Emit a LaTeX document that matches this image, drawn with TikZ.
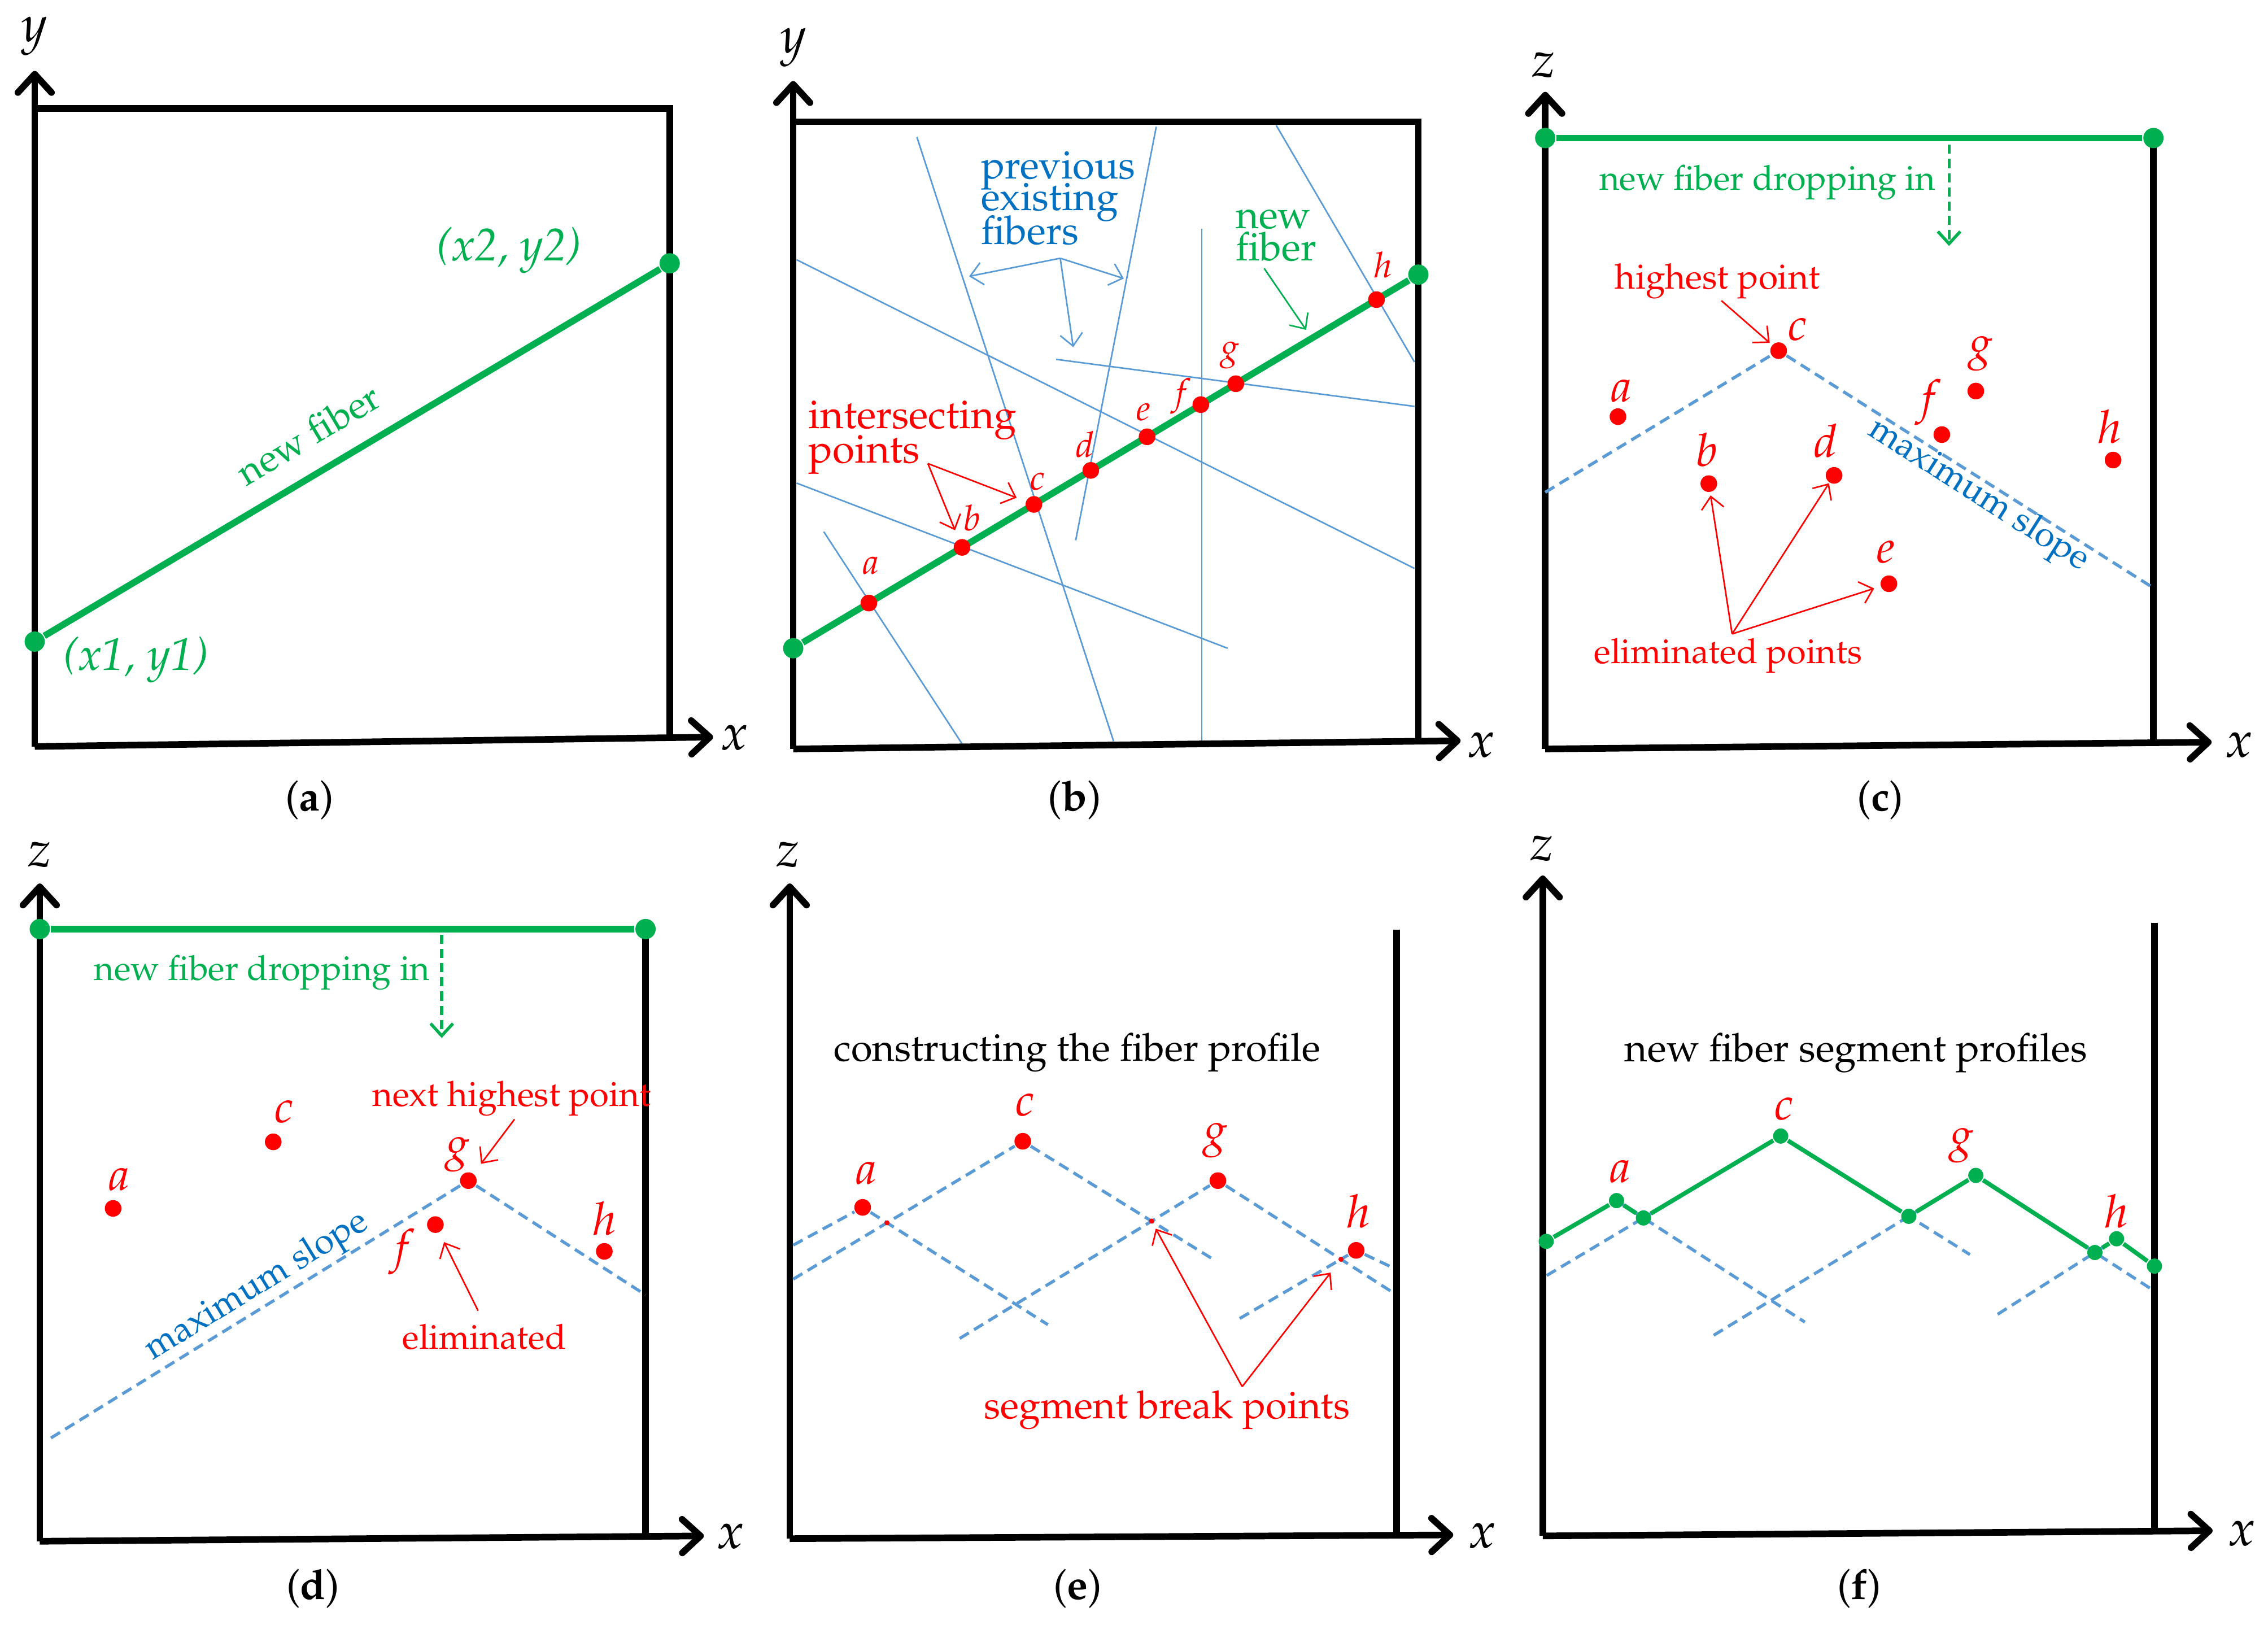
\documentclass[tikz,border=0pt]{standalone}
\usepackage[T1]{fontenc}
\usepackage{mathpazo}
\usetikzlibrary{arrows.meta,calc}

\definecolor{fibergreen}{RGB}{0,176,80}
\definecolor{ptred}{RGB}{255,0,0}
\definecolor{oldblue}{RGB}{91,155,213}
\definecolor{noteblue}{RGB}{0,112,192}

\newcommand{\fsz}[1]{\fontsize{#1}{#1}\selectfont}

\begin{document}
\begin{tikzpicture}[
  x=0.01cm, y=-0.01cm,
  axisline/.style={
      line width=1.3pt,
      arrows = {-Straight Barb[length=3.6pt,width=6.6pt,round]}
    },
  boxline/.style={
      line width=1.3pt
    },
  fiber/.style={
      draw=fibergreen,
      line width=1.3pt
    },
  profile/.style={
      draw=fibergreen,
      line width=0.85pt,
      line join=round
    },
  gdot/.style={circle, fill=fibergreen, inner sep=0pt, minimum size=0.14cm},
  pdot/.style={circle, fill=fibergreen, inner sep=0pt, minimum size=0.105cm},
  rdot/.style={circle, fill=ptred, inner sep=0pt, minimum size=0.115cm},
  brkdot/.style={circle, fill=ptred, inner sep=0pt, minimum size=0.035cm},
  oldfiber/.style={
      draw=oldblue,
      line width=0.3pt
    },
  maxslope/.style={
      draw=oldblue,
      line width=0.6pt,
      dash pattern=on 2.1pt off 1.2pt
    },
  callout/.style={
      line width=0.3pt,
      arrows = {-Straight Barb[length=2.4pt,width=4.4pt]}
    },
  dropline/.style={
      draw=fibergreen,
      line width=0.6pt,
      dash pattern=on 1.8pt off 1pt,
      arrows = {-Straight Barb[length=2.4pt,width=4.4pt]}
    },
  axlabel/.style={inner sep=0pt, font=\fsz{10}},
  ptlabel/.style={inner sep=0pt, text=ptred, font=\fsz{9}},
  smalllabel/.style={inner sep=0pt, text=ptred, font=\fsz{7}},
  subcap/.style={inner sep=0pt, font=\fsz{8.2}},
  greentext/.style={inner sep=0pt, text=fibergreen},
  redtext/.style={inner sep=0pt, text=ptred},
  bluetext/.style={inner sep=0pt, text=noteblue},
  blacktext/.style={inner sep=0pt}]
  \useasboundingbox (0,0) rectangle (1568,1123);

  % (a) new fiber in the x-y plane
  \begin{scope}
    \coordinate (o) at (24,516);
    \coordinate (ya) at (24,49);
    \coordinate (xa) at (493,509.5);
    \coordinate (c1) at (24,75);
    \coordinate (c2) at (463,75);
    \coordinate (c3) at (463,510);
    \draw [boxline] (c1) -- (c2) -- (c3);
    \draw [axisline] (o) -- (ya);
    \draw [axisline] (o) -- (xa);
    \node [axlabel] (ylab) at (24,25) {$y$};
    \node [axlabel] (xlab) at (508,510) {$x$};

    \node [gdot] (p1) at (24,443.5) {};
    \node [gdot] (p2) at (463,182) {};
    \draw [fiber] (p1) -- (p2);
    \node [greentext, font=\fsz{9}\itshape] (p1lab) at (94,456) {(x1, y1)};
    \node [greentext, font=\fsz{9}\itshape] (p2lab) at (352,173) {(x2, y2)};
    \node [greentext, font=\fsz{7.5}, rotate=30.8] (nf) at (213,300) {new fiber};

    \node [subcap] (capa) at (214,553) {(\textbf{a})};
  \end{scope}

  % (b) intersections with the previous fibers
  \begin{scope}
    \coordinate (o) at (548.4,517.7);
    \coordinate (ya) at (548.4,56);
    \coordinate (xa) at (1009.8,512);
    \coordinate (c1) at (548.4,84.1);
    \coordinate (c2) at (980.6,84.1);
    \coordinate (c3) at (980.6,512.4);

    \coordinate (f1s) at (569.5,367.5);  \coordinate (f1e) at (665.1,514.1);
    \coordinate (f2s) at (550.7,333.9);  \coordinate (f2e) at (848.7,448.1);
    \coordinate (f3s) at (633.9,94.7);   \coordinate (f3e) at (769.9,512.4);
    \coordinate (f4s) at (799.4,87.6);   \coordinate (f4e) at (743.7,373.5);
    \coordinate (f5s) at (550.7,179.5);  \coordinate (f5e) at (977.9,392.9);
    \coordinate (f6s) at (830.9,158);    \coordinate (f6e) at (830.9,512.4);
    \coordinate (f7s) at (730.2,248.4);  \coordinate (f7e) at (977.9,280.9);
    \coordinate (f8s) at (882.3,86.6);   \coordinate (f8e) at (977.9,250.2);
    \draw [oldfiber] (f1s) -- (f1e);
    \draw [oldfiber] (f2s) -- (f2e);
    \draw [oldfiber] (f3s) -- (f3e);
    \draw [oldfiber] (f4s) -- (f4e);
    \draw [oldfiber] (f5s) -- (f5e);
    \draw [oldfiber] (f6s) -- (f6e);
    \draw [oldfiber] (f7s) -- (f7e);
    \draw [oldfiber] (f8s) -- (f8e);

    \draw [boxline] (c1) -- (c2) -- (c3);
    \draw [axisline] (o) -- (ya);
    \draw [axisline] (o) -- (xa);
    \node [axlabel] (ylab) at (548.4,33) {$y$};
    \node [axlabel] (xlab) at (1024,515) {$x$};

    \node [gdot] (p1) at (548.4,448.1) {};
    \node [gdot] (p2) at (980.6,189.8) {};
    \draw [fiber] (p1) -- (p2);

    \node [rdot] (a) at ($(p1)!0.121!(p2)$) {};
    \node [rdot] (b) at ($(p1)!0.270!(p2)$) {};
    \node [rdot] (c) at ($(p1)!0.385!(p2)$) {};
    \node [rdot] (d) at ($(p1)!0.476!(p2)$) {};
    \node [rdot] (e) at ($(p1)!0.566!(p2)$) {};
    \node [rdot] (f) at ($(p1)!0.652!(p2)$) {};
    \node [rdot] (g) at ($(p1)!0.708!(p2)$) {};
    \node [rdot] (h) at ($(p1)!0.933!(p2)$) {};
    \node [smalllabel] (alab) at ($(a) + (1.4,-25.8)$) {$a$};
    \node [smalllabel] (blab) at ($(b) + (6.8,-20.5)$) {$b$};
    \node [smalllabel] (clab) at ($(c) + (2.4,-15.9)$) {$c$};
    \node [smalllabel] (dlab) at ($(d) + (-4.1,-18)$) {$d$};
    \node [smalllabel] (elab) at ($(e) + (-2.3,-16.9)$) {$e$};
    \node [smalllabel] (flab) at ($(f) + (-13.5,-6)$) {$f$};
    \node [smalllabel] (glab) at ($(g) + (-4,-19.8)$) {$g$};
    \node [smalllabel] (hlab) at ($(h) + (4.4,-24)$) {$h$};

    \node [bluetext, font=\fsz{7.8}, anchor=base west] (prev1) at (677.6,123.7) {previous};
    \node [bluetext, font=\fsz{7.8}, anchor=base west] (prev2) at (677.6,145.6) {existing};
    \node [bluetext, font=\fsz{7.8}, anchor=base west] (prev3) at (677.6,168.9) {fibers};
    \coordinate (pf) at (733,178.5);
    \coordinate (pf1) at (670,191);
    \coordinate (pf2) at (777,192.5);
    \coordinate (pf3) at (742,240);
    \draw [callout, draw=oldblue] (pf) -- (pf1);
    \draw [callout, draw=oldblue] (pf) -- (pf2);
    \draw [callout, draw=oldblue] (pf) -- (pf3);

    \node [greentext, font=\fsz{7.8}, anchor=base west] (nf1) at (853.7,158) {new};
    \node [greentext, font=\fsz{7.8}, anchor=base west] (nf2) at (853.7,180.2) {fiber};
    \coordinate (nfs) at (874,185.5);
    \coordinate (nft) at (903,228);
    \draw [callout, draw=fibergreen] (nfs) -- (nft);

    \node [redtext, font=\fsz{7.9}, anchor=base west] (int1) at (558.4,296.1) {intersecting};
    \node [redtext, font=\fsz{7.9}, anchor=base west] (int2) at (558.4,319.8) {points};
    \coordinate (ipt) at (641.5,320.4);
    \draw [callout, draw=ptred, shorten >=1.8pt] (ipt) -- (c);
    \draw [callout, draw=ptred, shorten >=1.8pt] (ipt) -- (b);

    \node [subcap] (capb) at (743,553) {(\textbf{b})};
  \end{scope}

  % (c) highest point along z
  \begin{scope}
    \coordinate (o) at (1068.3,517.7);
    \coordinate (za) at (1068.3,63.5);
    \coordinate (xa) at (1529,513);
    \coordinate (q1) at (1068.3,95.4);
    \coordinate (q2) at (1488.8,95.4);
    \coordinate (c3) at (1488.8,513);
    \draw [boxline] (q2) -- (c3);
    \draw [axisline] (o) -- (za);
    \draw [axisline] (o) -- (xa);
    \node [axlabel] (zlab) at (1067.3,45) {$z$};
    \node [axlabel] (xlab) at (1548,515) {$x$};

    \node [gdot] (p1) at (q1) {};
    \node [gdot] (p2) at (q2) {};
    \draw [fiber] (p1) -- (p2);
    \coordinate (d1) at (1347.5,100);
    \coordinate (d2) at (1347.5,170);
    \draw [dropline] (d1) -- (d2);
    \node [greentext, font=\fsz{6.8}, anchor=base] (drop) at (1222,131.5) {new fiber dropping in};

    \node [rdot] (a) at (1118.6,288) {};
    \node [rdot] (b) at (1181.4,334.3) {};
    \node [rdot] (c) at (1229.7,242.4) {};
    \node [rdot] (d) at (1268,328.6) {};
    \node [rdot] (e) at (1305.9,403.5) {};
    \node [rdot] (f) at (1342.5,300.4) {};
    \node [rdot] (g) at (1366,270.3) {};
    \node [rdot] (h) at (1460.9,318) {};
    \node [ptlabel] (alab) at ($(a) + (2.4,-17.7)$) {$a$};
    \node [ptlabel] (blab) at ($(b) + (-1.4,-23.3)$) {$b$};
    \node [ptlabel] (clab) at ($(c) + (13.1,-14.5)$) {$c$};
    \node [ptlabel] (dlab) at ($(d) + (-5.7,-24)$) {$d$};
    \node [ptlabel] (elab) at ($(e) + (-2,-21.9)$) {$e$};
    \node [ptlabel] (flab) at ($(f) + (-9.1,-22.3)$) {$f$};
    \node [ptlabel] (glab) at ($(g) + (3.3,-25.8)$) {$g$};
    \node [ptlabel] (hlab) at ($(h) + (-2.3,-23)$) {$h$};

    \coordinate (s1) at (1068.3,340.3);
    \coordinate (s2) at (1488.8,406.4);
    \draw [maxslope] (s1) -- (c) -- (s2);
    \node [bluetext, font=\fsz{7}, rotate=-32.5] (ms) at (1367.6,342.8) {maximum slope};

    \node [redtext, font=\fsz{6.9}, anchor=base] (hp) at (1187.4,199.6) {highest point};
    \coordinate (hps) at (1190.1,207.8);
    \draw [callout, draw=ptred, shorten >=0.5pt] (hps) -- (c);

    \node [redtext, font=\fsz{6.8}] (el) at (1194.8,453.4) {eliminated points};
    \coordinate (els) at (1197.5,438.2);
    \draw [callout, draw=ptred, shorten >=0.5pt] (els) -- (b);
    \draw [callout, draw=ptred] (els) -- (d);
    \draw [callout, draw=ptred, shorten >=1.2pt] (els) -- (e);

    \node [subcap] (capc) at (1300,553) {(\textbf{c})};
  \end{scope}

  % (d) next highest point
  \begin{scope}
    \coordinate (o) at (27.5,1065.4);
    \coordinate (za) at (27.5,610.7);
    \coordinate (xa) at (486.6,1061.7);
    \coordinate (q1) at (27.5,642.2);
    \coordinate (q2) at (446.3,642.2);
    \coordinate (c3) at (446.3,1062);
    \draw [boxline] (q2) -- (c3);
    \draw [axisline] (o) -- (za);
    \draw [axisline] (o) -- (xa);
    \node [axlabel] (zlab) at (27.5,590.7) {$z$};
    \node [axlabel] (xlab) at (505,1062) {$x$};

    \node [gdot] (p1) at (q1) {};
    \node [gdot] (p2) at (q2) {};
    \draw [fiber] (p1) -- (p2);
    \coordinate (d1) at (305.4,646);
    \coordinate (d2) at (305.4,717.5);
    \draw [dropline] (d1) -- (d2);
    \node [greentext, font=\fsz{6.8}] (drop) at (181.2,672.3) {new fiber dropping in};

    \node [rdot] (a) at (78.2,835.3) {};
    \node [rdot] (c) at (188.9,789.3) {};
    \node [rdot] (f) at (301,846.5) {};
    \node [rdot] (g) at (323.8,816.1) {};
    \node [rdot] (h) at (417.8,865) {};
    \node [ptlabel] (alab) at ($(a) + (4,-19.9)$) {$a$};
    \node [ptlabel] (clab) at ($(c) + (7.4,-21)$) {$c$};
    \node [ptlabel] (flab) at ($(f) + (-23.1,18.9)$) {$f$};
    \node [ptlabel] (glab) at ($(g) + (-7.4,-18.1)$) {$g$};
    \node [ptlabel] (hlab) at ($(h) + (0,-22.5)$) {$h$};

    \coordinate (s1) at (35.2,994);
    \coordinate (s2) at (446.3,895.1);
    \draw [maxslope] (s1) -- (g) -- (s2);
    \node [bluetext, font=\fsz{7}, rotate=31.6] (ms) at (177.9,889.6) {maximum slope};

    \node [redtext, font=\fsz{6.85}] (nhp) at (353.7,759.2) {next highest point};
    \coordinate (nhs) at (355.7,773.7);
    \draw [callout, draw=ptred, shorten >=2.3pt] (nhs) -- (g);
    \node [redtext, font=\fsz{6.8}] (el) at (334.9,924.1) {eliminated};
    \coordinate (els) at (330.5,906);
    \draw [callout, draw=ptred, shorten >=2pt] (els) -- (f);

    \node [subcap] (capd) at (216.4,1098) {(\textbf{d})};
  \end{scope}

  % (e) constructing the profile
  \begin{scope}
    \coordinate (o) at (546,1063.6);
    \coordinate (za) at (546,610.7);
    \coordinate (xa) at (1004.7,1061);
    \coordinate (q2) at (965.5,642.5);
    \coordinate (c3) at (965.5,1061.2);
    \draw [boxline] (q2) -- (c3);
    \draw [axisline] (o) -- (za);
    \draw [axisline] (o) -- (xa);
    \node [axlabel] (zlab) at (545,590.7) {$z$};
    \node [axlabel] (xlab) at (1024.9,1061.7) {$x$};

    \node [blacktext, font=\fsz{7.6}] (title) at (744.7,727.7) {constructing the fiber profile};

    \node [rdot] (a) at (596.4,834.6) {};
    \node [rdot] (c) at (707.1,788.9) {};
    \node [rdot] (g) at (842,816.1) {};
    \node [rdot] (h) at (937.6,864.3) {};
    \node [ptlabel] (alab) at ($(a) + (2.3,-23.6)$) {$a$};
    \node [ptlabel] (clab) at ($(c) + (1.7,-25)$) {$c$};
    \node [ptlabel] (glab) at ($(g) + (-1.7,-27.9)$) {$g$};
    \node [ptlabel] (hlab) at ($(h) + (1.7,-27.2)$) {$h$};

    \coordinate (a1) at (548.4,860.7);  \coordinate (a2) at (724.5,915.7);
    \coordinate (c1) at (548.4,884.2);  \coordinate (c2) at (838.6,870.4);
    \coordinate (g1) at (663.5,925.2);  \coordinate (g2) at (962.8,893.3);
    \coordinate (h1) at (857.1,911.4);  \coordinate (h2) at (962.8,876.2);
    \draw [maxslope] (a1) -- (a) -- (a2);
    \draw [maxslope] (c1) -- (c) -- (c2);
    \draw [maxslope] (g1) -- (g) -- (g2);
    \draw [maxslope] (h1) -- (h) -- (h2);

    \node [brkdot] (k1) at (intersection of a--a2 and c1--c) {};
    \node [brkdot] (k2) at (intersection of c--c2 and g1--g) {};
    \node [brkdot] (k3) at (intersection of g--g2 and h1--h) {};

    \node [redtext, font=\fsz{7.6}] (sbp) at (806.8,974.8) {segment break points};
    \coordinate (sbs) at (858.8,958.5);
    \draw [callout, draw=ptred, shorten >=1pt] (sbs) -- (k2);
    \draw [callout, draw=ptred, shorten >=2.6pt] (sbs) -- (k3);

    \node [subcap] (cape) at (745,1098) {(\textbf{e})};
  \end{scope}

  % (f) resulting segment profiles
  \begin{scope}
    \coordinate (o) at (1066.6,1061.7);
    \coordinate (za) at (1066.6,605.2);
    \coordinate (xa) at (1529.7,1058.1);
    \coordinate (q2) at (1489.5,637.8);
    \coordinate (c3) at (1489.5,1058.5);
    \draw [boxline] (q2) -- (c3);
    \draw [axisline] (o) -- (za);
    \draw [axisline] (o) -- (xa);
    \node [axlabel] (zlab) at (1066,586.4) {$z$};
    \node [axlabel] (xlab) at (1549.9,1060) {$x$};

    \node [blacktext, font=\fsz{7.75}] (title) at (1283.1,727.7) {new fiber segment profiles};

    \coordinate (a) at (1117.6,829.9);
    \coordinate (c) at (1231.1,785.3);
    \coordinate (g) at (1366,812.5);
    \coordinate (h) at (1463.3,856.3);
    \coordinate (a2) at (1247.8,913.9);
    \coordinate (c1) at (1069.3,881.7);  \coordinate (c2) at (1361.9,867.2);
    \coordinate (g1) at (1184.8,923);    \coordinate (g2) at (1486.8,890.7);
    \coordinate (h1) at (1381.1,908.5);
    \draw [maxslope] (c1) -- (c) -- (c2);
    \draw [maxslope] (a) -- (a2);
    \draw [maxslope] (g1) -- (g) -- (g2);
    \draw [maxslope] (h1) -- (h);

    \node [pdot] (v0) at (1069,858.1) {};
    \node [pdot] (va) at (a) {};
    \node [pdot] (v1) at (intersection of a--a2 and c1--c) {};
    \node [pdot] (vc) at (c) {};
    \node [pdot] (v2) at (intersection of c--c2 and g1--g) {};
    \node [pdot] (vg) at (g) {};
    \node [pdot] (v3) at (intersection of g--g2 and h1--h) {};
    \node [pdot] (vh) at (h) {};
    \node [pdot] (v4) at (1489.5,875.2) {};
    \draw [profile] (v0) -- (va) -- (v1) -- (vc) -- (v2) -- (vg) -- (v3) -- (vh) -- (v4);

    \node [ptlabel] (alab) at ($(va) + (2.7,-19.9)$) {$a$};
    \node [ptlabel] (clab) at ($(vc) + (2.3,-18.8)$) {$c$};
    \node [ptlabel] (glab) at ($(vg) + (-10.1,-20.7)$) {$g$};
    \node [ptlabel] (hlab) at ($(vh) + (0,-19.2)$) {$h$};

    \node [subcap] (capf) at (1285.4,1098) {(\textbf{f})};
  \end{scope}
\end{tikzpicture}
\end{document}
